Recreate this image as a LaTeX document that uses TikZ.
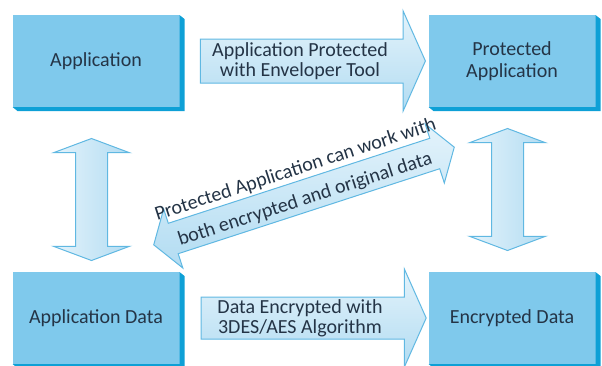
\documentclass[tikz,border=0pt]{standalone}
\usepackage{fontspec}
\setmainfont{Carlito}
\usetikzlibrary{shapes.arrows,calc,positioning}
\definecolor{boxface}{RGB}{127,201,236}
\definecolor{boxside}{RGB}{14,160,214}
\definecolor{labeltext}{RGB}{36,52,70}
\definecolor{arrowedge}{RGB}{96,184,226}
\definecolor{arrowlight}{RGB}{228,243,251}
\definecolor{arrowdark}{RGB}{178,220,242}
\tikzstyle{appbox}=[fill=boxface,minimum width=167pt,minimum height=92pt,outer sep=0pt,align=center,text=labeltext,font=\fontsize{20}{22}\selectfont]
\tikzstyle{flowarrow}=[single arrow,draw=arrowedge,line width=1pt,top color=arrowlight,bottom color=arrowdark,single arrow head extend=28pt,single arrow tip angle=132,minimum height=225pt,inner xsep=0pt]
\tikzstyle{arrowtext}=[align=center,inner sep=0pt,text=labeltext,font=\fontsize{20}{20}\selectfont]
\tikzstyle{bothways}=[double arrow,draw=arrowedge,line width=1pt,left color=arrowlight,right color=arrowdark,inner xsep=0pt,inner ysep=15.5pt]
\tikzstyle{slanted}=[rotate=18,anchor=base,text=labeltext,inner sep=0pt,font=\fontsize{20}{20}\selectfont]

\begin{document}
\begin{tikzpicture}[x=1pt,y=-1pt]
\useasboundingbox (0,0) rectangle (602,365);
\clip (0,0) rectangle (602,365);
% the four boxes
\node[appbox] (app) at (96,61) {Application};
\node[appbox,right=249pt of app] (prot) {Protected\\Application};
\node[appbox,below=165pt of app] (appdata) {Application Data};
\node[appbox,right=249pt of appdata] (encdata) {Encrypted Data};
\foreach \b in {app,prot,appdata,encdata}
  \fill[boxside] (\b.north east) -- ($(\b.north east)+(5,4)$) -- ($(\b.south east)+(5,4)$)
    -- ($(\b.south west)+(5,4)$) -- (\b.south west) -- (\b.south east) -- cycle;
% horizontal arrows
\node[flowarrow,inner ysep=21.5pt,xshift=4pt] (protect) at ($(app.east)!0.5!(prot.west)$) {};
\node[arrowtext] (protecttext) at ($(protect.center)+(-8,0)$) {Application Protected\\with Enveloper Tool};
\node[flowarrow,inner ysep=20.5pt,xshift=5pt] (encrypt) at ($(appdata.east)!0.5!(encdata.west)$) {};
\node[arrowtext] (encrypttext) at ($(encrypt.center)+(-9,0)$) {Data Encrypted with\\3DES/AES Algorithm};
% vertical arrows
\node[bothways,rotate=90,minimum height=122pt,double arrow head extend=22pt,double arrow tip angle=139,xshift=-10pt,yshift=4.5pt]
  (leftway) at ($(app.south)!0.5!(appdata.north)$) {};
\node[bothways,rotate=90,minimum height=122pt,double arrow head extend=22pt,double arrow tip angle=139,yshift=4.5pt]
  (rightway) at ($(prot.south)!0.5!(encdata.north)$) {};
% slanted arrow
\node[bothways,rotate=18,minimum height=316pt,double arrow head extend=15pt,double arrow tip angle=113,top color=arrowlight,bottom color=arrowdark]
  (work) at (304,196) {};
\node[slanted] (worktop) at ($(work.center)!22pt!90:(work.east)$) {Protected Application can work with};
\node[slanted] (workbot) at ($(work.center)!9pt!-90:(work.east)$) {both encrypted and original data};
\end{tikzpicture}
\end{document}
